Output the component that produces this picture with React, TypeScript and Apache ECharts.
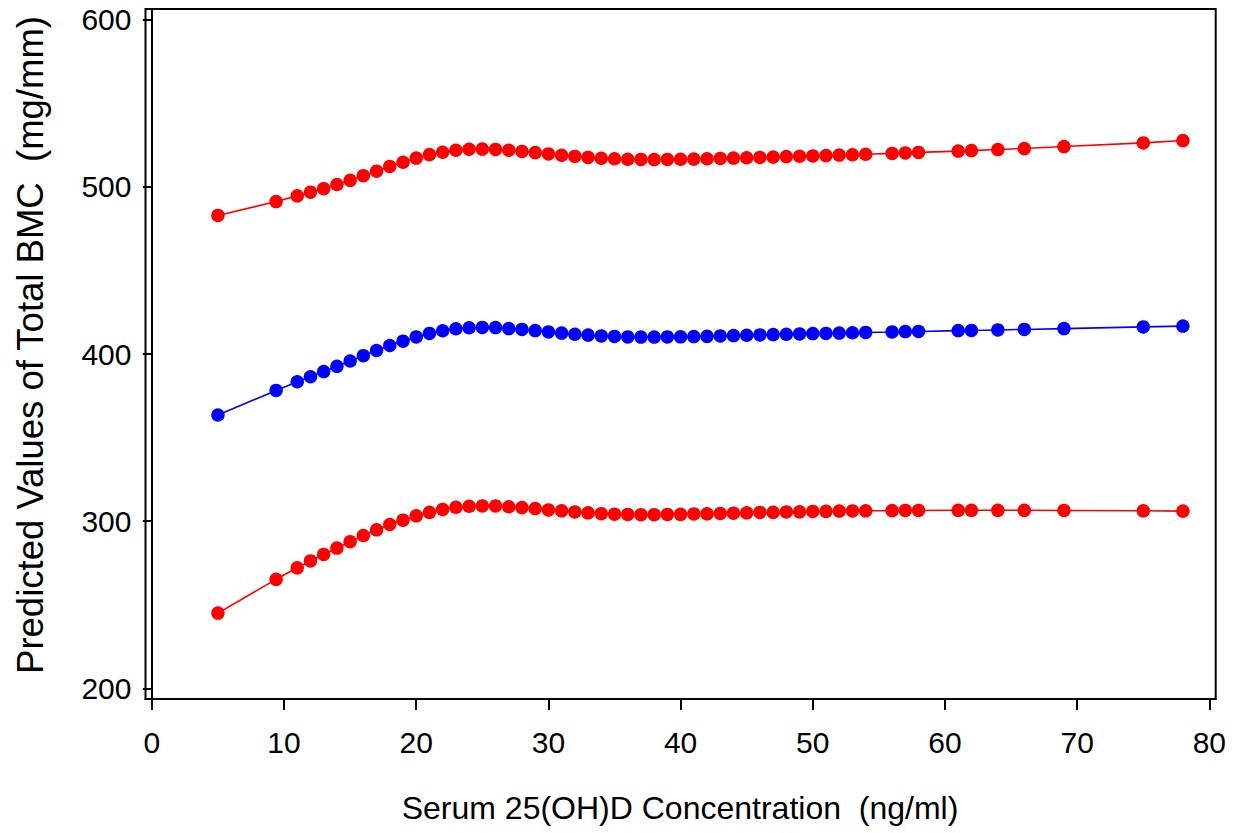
import React, { useEffect, useRef } from "react";
import * as echarts from "echarts";

const xValues = [
  5, 9.4, 11, 12, 13, 14, 15, 16, 17, 18, 19, 20, 21, 22, 23, 24, 25, 26, 27, 28, 29, 30,
  31, 32, 33, 34, 35, 36, 37, 38, 39, 40, 41, 42, 43, 44, 45, 46, 47, 48, 49, 50,
  51, 52, 53, 54, 56, 57, 58, 61, 62, 64, 66, 69, 75, 78,
];

const upperValues = [
  482.9, 491.2, 494.6, 496.8, 498.9, 501.4, 503.9, 506.7, 509.4, 512.2, 514.7, 517.2, 519.3, 520.7, 521.9, 522.5, 522.6, 522.4, 521.9, 521.2, 520.5, 519.7,
  518.9, 518.2, 517.6, 517.1, 516.8, 516.5, 516.4, 516.3, 516.4, 516.5, 516.6, 516.8, 517.0, 517.2, 517.4, 517.6, 517.8, 518.1, 518.3, 518.5,
  518.7, 519.0, 519.2, 519.5, 520.0, 520.3, 520.6, 521.4, 521.7, 522.3, 522.9, 524.1, 526.3, 527.7,
];

const meanValues = [
  363.5, 378.2, 383.4, 386.4, 389.5, 392.6, 395.8, 399.0, 402.1, 405.1, 407.7, 410.2, 412.3, 413.9, 415.1, 415.7, 415.9, 415.8, 415.2, 414.7, 414.0, 413.2,
  412.5, 411.8, 411.3, 410.8, 410.5, 410.2, 410.1, 410.1, 410.2, 410.3, 410.4, 410.6, 410.8, 411.0, 411.2, 411.4, 411.6, 411.8, 412.0, 412.2,
  412.3, 412.5, 412.7, 412.9, 413.2, 413.4, 413.5, 414.0, 414.1, 414.4, 414.7, 415.2, 416.2, 416.7,
];

const lowerValues = [
  245.0, 265.2, 272.1, 276.2, 280.1, 283.9, 287.7, 291.4, 294.8, 298.0, 300.6, 303.2, 305.3, 307.0, 308.3, 308.9, 309.1, 309.1, 308.6, 308.1, 307.5, 306.7,
  306.2, 305.5, 305.0, 304.5, 304.2, 304.0, 303.9, 303.9, 304.0, 304.1, 304.3, 304.4, 304.6, 304.8, 305.0, 305.2, 305.3, 305.5, 305.6, 305.8,
  305.9, 306.0, 306.1, 306.2, 306.3, 306.4, 306.4, 306.5, 306.5, 306.5, 306.5, 306.4, 306.2, 306.0,
];

const xTicks = [0, 10, 20, 30, 40, 50, 60, 70, 80];
const yTicks = [200, 300, 400, 500, 600];

const xTitle = "Serum 25(OH)D Concentration  (ng/ml)";
const yTitle = "Predicted Values of Total BMC  (mg/mm)";

const FONT = "'Liberation Sans', Arial, Helvetica, sans-serif";

function pairs(ys: number[]) {
  return xValues.map((x, i) => [x, ys[i]]);
}

export default function App() {
  const ref = useRef<HTMLDivElement>(null);

  useEffect(() => {
    if (!ref.current) return;
    const chart = echarts.init(ref.current, undefined, { renderer: "svg" });

    const mkSeries = (name: string, ys: number[], color: string) => ({
      name,
      type: "line",
      data: pairs(ys),
      symbol: "circle",
      symbolSize: 13.5,
      showAllSymbol: true,
      itemStyle: { color },
      lineStyle: { color, width: 1.6 },
      emphasis: { disabled: true },
      z: 3,
    });

    chart.setOption({
      animation: false,
      backgroundColor: "#ffffff",
      grid: {
        left: 145.5,
        top: 9,
        right: 21.3,
        bottom: 134,
        show: true,
        borderColor: "#000000",
        borderWidth: 2,
        backgroundColor: "transparent",
      },
      xAxis: {
        type: "value",
        min: -0.48,
        max: 80.48,
        axisLine: { show: true, lineStyle: { color: "#000", width: 2 } },
        axisTick: {
          show: true,
          inside: false,
          length: 11,
          customValues: xTicks,
          lineStyle: { color: "#000", width: 2 },
        },
        axisLabel: {
          customValues: xTicks,
          margin: 28,
          color: "#000",
          fontSize: 30,
          fontFamily: FONT,
        },
        splitLine: { show: false },
      },
      yAxis: {
        type: "value",
        min: 193.6,
        max: 606.4,
        axisLine: { show: true, lineStyle: { color: "#000", width: 2 } },
        axisTick: {
          show: true,
          inside: false,
          length: 9,
          customValues: yTicks,
          lineStyle: { color: "#000", width: 2 },
        },
        axisLabel: {
          customValues: yTicks,
          margin: 14,
          color: "#000",
          fontSize: 30,
          fontFamily: FONT,
        },
        splitLine: { show: false },
      },
      graphic: [
        {
          type: "text",
          x: 680,
          y: 808,
          style: {
            text: xTitle,
            fill: "#000",
            font: `32px ${FONT}`,
            textAlign: "center",
            textVerticalAlign: "middle",
          },
        },
        {
          type: "text",
          x: 30,
          y: 345,
          rotation: Math.PI / 2,
          style: {
            text: yTitle,
            fill: "#000",
            font: `36.5px ${FONT}`,
            textAlign: "center",
            textVerticalAlign: "middle",
          },
        },
      ],
      series: [
        mkSeries("Upper", upperValues, "#ff0000"),
        mkSeries("Predicted", meanValues, "#0000ff"),
        mkSeries("Lower", lowerValues, "#ff0000"),
      ],
    });

    return () => chart.dispose();
  }, []);

  return (
    <div
      ref={ref}
      style={{ position: "absolute", left: 0, top: 0, width: 1237, height: 833, background: "#fff" }}
    />
  );
}
